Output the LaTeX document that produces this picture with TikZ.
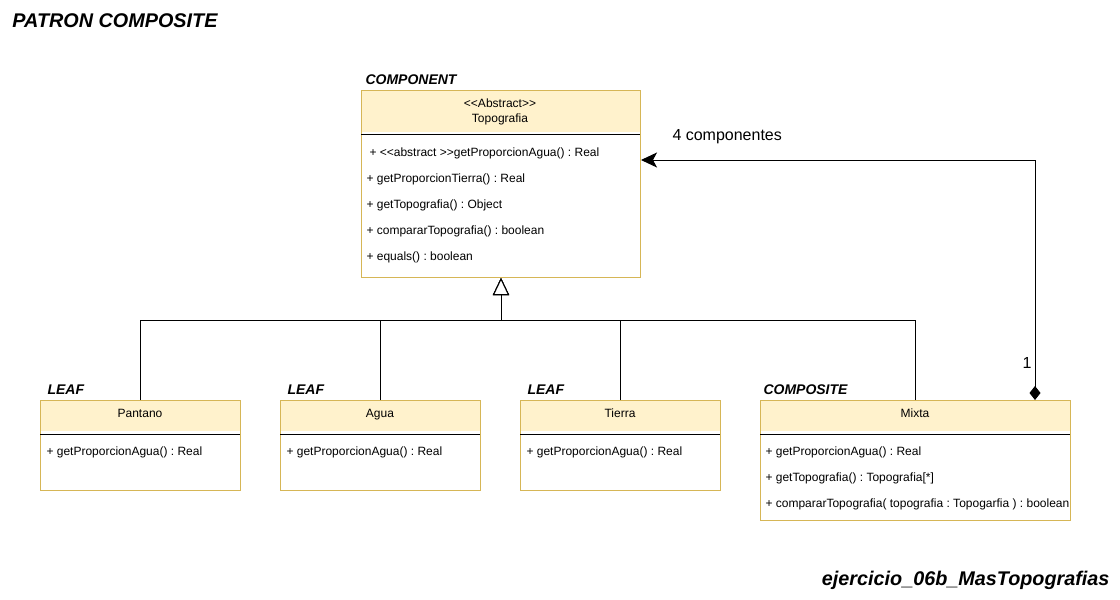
\documentclass[tikz,border=0pt]{standalone}
\usepackage{fontspec}
\setmainfont{Liberation Sans}
\usetikzlibrary{arrows.meta,calc}
\definecolor{fillY}{HTML}{FFF2CC}
\definecolor{strokeY}{HTML}{D6B656}
\frenchspacing
\begin{document}
\frenchspacing
\begin{tikzpicture}[x=1pt,y=-1pt, line width=1pt,
  hdr/.style={fill=fillY, draw=none, inner sep=0pt, anchor=north west},
  cls/.style={draw=strokeY, inner sep=0pt, anchor=north west},
  txt/.style={font=\frenchspacing\fontsize{12}{14}\selectfont, inner sep=0pt, anchor=west, text height=8.6pt, text depth=2.5pt},
  ctxt/.style={font=\frenchspacing\fontsize{12}{15}\selectfont, inner sep=0pt, align=center},
  hname/.style={ctxt, text height=8.6pt, text depth=2.5pt},
  role/.style={font=\fontsize{14}{16}\selectfont\bfseries\itshape, inner sep=0pt, anchor=west},
  big/.style={font=\fontsize{19.8}{22}\selectfont\bfseries\itshape, inner sep=0pt},
  lbl/.style={font=\fontsize{16}{18}\selectfont, inner sep=0pt, anchor=west},
  sep/.style={draw=black, line width=1pt},
]
\useasboundingbox (0,0) rectangle (1120,600);

% titles
\node[big, anchor=west] (title) at (12,21) {PATRON COMPOSITE};
\node[big, anchor=east] (foot) at (1110,580) {ejercicio\_06b\_MasTopografias};

% Component
\node[hdr, minimum width=279pt, minimum height=41pt] (comph) at (361,90) {};
\node[cls, minimum width=279pt, minimum height=187pt] (comp) at (361,90) {};
\draw[sep] (361,134) -- (640,134);
\node[ctxt] (compname) at (500,112) {<\kern0pt<Abstract>\kern0pt>\\Topografia};
\node[txt] (m1) at (369,153) {+ <\kern0pt<abstract >\kern0pt>getProporcionAgua() : Real};
\node[txt] (m2) at (366,179) {+ getProporcionTierra() : Real};
\node[txt] (m3) at (366,205) {+ getTopografia() : Object};
\node[txt] (m4) at (366,231) {+ compararTopografia() : boolean};
\node[txt] (m5) at (366,257) {+ equals() : boolean};
\node[role] (rcomp) at (365,80) {COMPONENT};

% Pantano
\node[hdr, minimum width=200pt, minimum height=30pt] (panh) at (40,400) {};
\node[cls, minimum width=200pt, minimum height=90pt] (pan) at (40,400) {};
\draw[sep] (40,434) -- (240,434);
\node[hname] (panname) at (140,414) {Pantano};
\node[txt] (pm1) at (46,452) {+ getProporcionAgua() : Real};
\node[role] (rpan) at (47,390) {LEAF};

% Agua
\node[hdr, minimum width=200pt, minimum height=30pt] (aguh) at (280,400) {};
\node[cls, minimum width=200pt, minimum height=90pt] (agu) at (280,400) {};
\draw[sep] (280,434) -- (480,434);
\node[hname] (aguname) at (380,414) {Agua};
\node[txt] (am1) at (286,452) {+ getProporcionAgua() : Real};
\node[role] (ragu) at (287,390) {LEAF};

% Tierra
\node[hdr, minimum width=200pt, minimum height=30pt] (tieh) at (520,400) {};
\node[cls, minimum width=200pt, minimum height=90pt] (tie) at (520,400) {};
\draw[sep] (520,434) -- (720,434);
\node[hname] (tiename) at (620,414) {Tierra};
\node[txt] (tm1) at (526,452) {+ getProporcionAgua() : Real};
\node[role] (rtie) at (527,390) {LEAF};

% Mixta
\node[hdr, minimum width=310pt, minimum height=30pt] (mixh) at (760,400) {};
\node[cls, minimum width=310pt, minimum height=120pt] (mix) at (760,400) {};
\draw[sep] (760,434) -- (1070,434);
\node[hname] (mixname) at (915,414) {Mixta};
\node[txt] (xm1) at (765,452) {+ getProporcionAgua() : Real};
\node[txt] (xm2) at (765,478) {+ getTopografia() : Topografia[*]};
\begin{scope}
\clip (760,400) rectangle (1069,520);
\node[txt] (xm3) at (765,504) {+ compararTopografia( topografia : Topogarfia ) : boolean};
\end{scope}
\node[role] (rmix) at (763,390) {COMPOSITE};

% inheritance
\foreach \c in {pan,agu,tie,mix}{
  \draw[-{Triangle[open,length=17pt,width=16pt,fill=white]}] (\c.north) -- ++(0,-80) -| (comp.south);
}

% composition
\draw[{Diamond[length=14pt,width=11pt]}-{Stealth[length=16pt,width=15pt,inset=4pt]}]
  ($(mix.north west)+(275,0)$) |- ($(comp.north east)+(0,70)$);
\node[lbl] (lcomp) at (672,137) {4 componentes};
\node[lbl] (lone) at (1022,363) {1};
\end{tikzpicture}
\end{document}
